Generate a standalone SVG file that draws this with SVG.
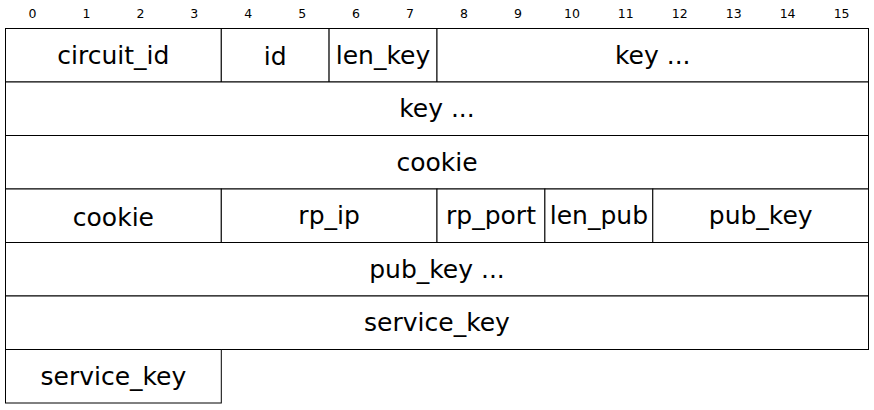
<svg xmlns="http://www.w3.org/2000/svg" width="874" height="410" viewBox="0 0 874 410">
<style>
.cell{fill:#fff;stroke:#000;stroke-width:1}
.lbl{font-family:"DejaVu Sans",sans-serif;font-size:25px;fill:#000;text-anchor:middle}
.hdr{font-family:"DejaVu Sans",sans-serif;font-size:12.5px;fill:#000;text-anchor:middle}
</style>
<rect width="874" height="410" fill="#fff"/>
<g id="header">
<text class="hdr" x="32.5" y="17.5">0</text>
<text class="hdr" x="86.4" y="17.5">1</text>
<text class="hdr" x="140.4" y="17.5">2</text>
<text class="hdr" x="194.3" y="17.5">3</text>
<text class="hdr" x="248.2" y="17.5">4</text>
<text class="hdr" x="302.2" y="17.5">5</text>
<text class="hdr" x="356.1" y="17.5">6</text>
<text class="hdr" x="410.1" y="17.5">7</text>
<text class="hdr" x="464" y="17.5">8</text>
<text class="hdr" x="517.9" y="17.5">9</text>
<text class="hdr" x="571.9" y="17.5">10</text>
<text class="hdr" x="625.8" y="17.5">11</text>
<text class="hdr" x="679.8" y="17.5">12</text>
<text class="hdr" x="733.7" y="17.5">13</text>
<text class="hdr" x="787.6" y="17.5">14</text>
<text class="hdr" x="841.6" y="17.5">15</text>
</g>
<g id="circuit_id"><rect class="cell" x="5.5" y="28.5" width="215.8" height="53.5"/><text class="lbl" x="113.4" y="63.5">circuit_id</text></g>
<g id="id"><rect class="cell" x="221.3" y="28.5" width="107.8" height="53.5"/><text class="lbl" x="275.2" y="64.5">id</text></g>
<g id="len_key"><rect class="cell" x="329.1" y="28.5" width="107.9" height="53.5"/><text class="lbl" x="383" y="64">len_key</text></g>
<g id="key1"><rect class="cell" x="437" y="28.5" width="431.5" height="53.5"/><text class="lbl" x="652.8" y="64">key ...</text></g>
<g id="key2"><rect class="cell" x="5.5" y="82" width="863" height="53.5"/><text class="lbl" x="437" y="117">key ...</text></g>
<g id="cookie1"><rect class="cell" x="5.5" y="135.5" width="863" height="53.5"/><text class="lbl" x="437" y="171">cookie</text></g>
<g id="cookie2"><rect class="cell" x="5.5" y="189" width="215.8" height="53.5"/><text class="lbl" x="113.4" y="225.5">cookie</text></g>
<g id="rp_ip"><rect class="cell" x="221.3" y="189" width="215.7" height="53.5"/><text class="lbl" x="329.1" y="224">rp_ip</text></g>
<g id="rp_port"><rect class="cell" x="437" y="189" width="107.9" height="53.5"/><text class="lbl" x="491" y="224">rp_port</text></g>
<g id="len_pub"><rect class="cell" x="544.9" y="189" width="107.9" height="53.5"/><text class="lbl" x="598.9" y="224">len_pub</text></g>
<g id="pub_key1"><rect class="cell" x="652.8" y="189" width="215.7" height="53.5"/><text class="lbl" x="760.7" y="224">pub_key</text></g>
<g id="pub_key2"><rect class="cell" x="5.5" y="242.5" width="863" height="53.5"/><text class="lbl" x="437" y="277.5">pub_key ...</text></g>
<g id="service_key1"><rect class="cell" x="5.5" y="296" width="863" height="53.5"/><text class="lbl" x="437" y="331">service_key</text></g>
<g id="service_key2"><rect class="cell" x="5.5" y="349.5" width="215.8" height="53.5"/><text class="lbl" x="113.4" y="384.5">service_key</text></g>
</svg>
